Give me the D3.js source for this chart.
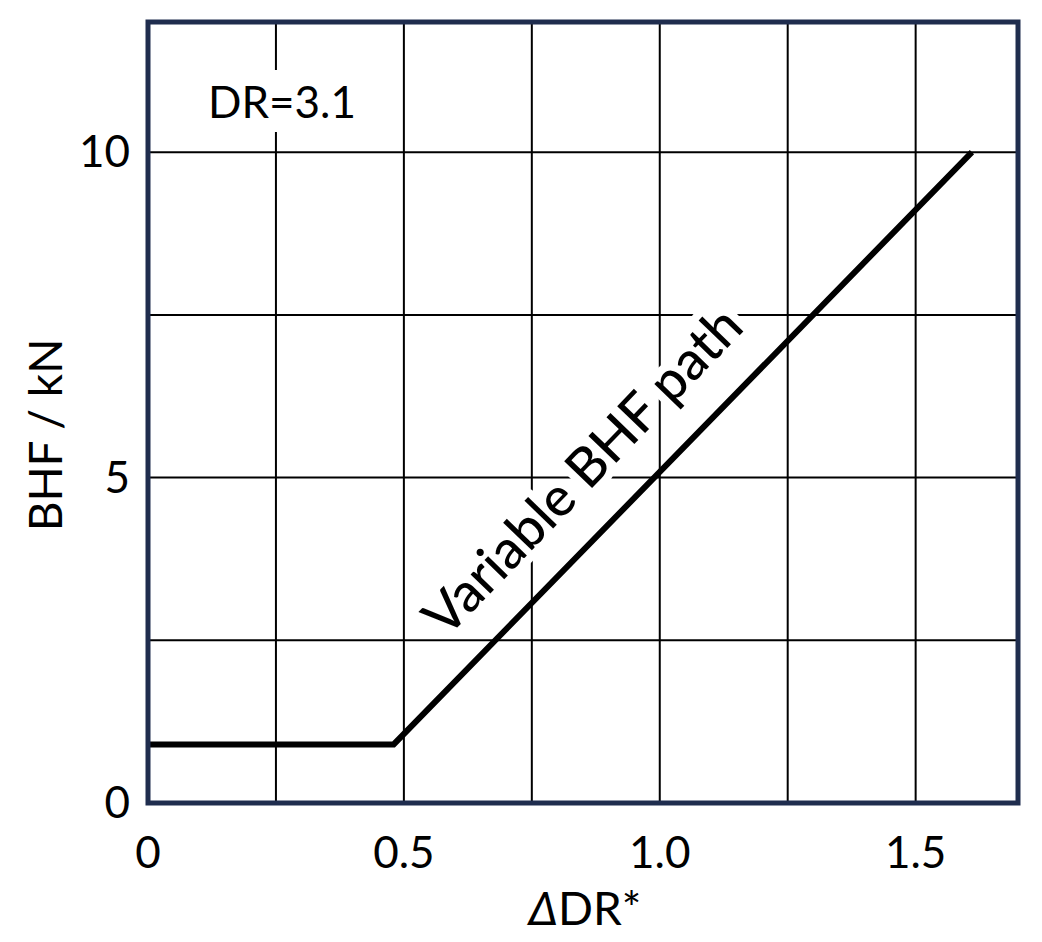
<!DOCTYPE html>
<html><head><meta charset="utf-8">
<script src="https://cdn.jsdelivr.net/npm/d3@7"></script>
<style>body{margin:0;background:#fff}text{font-family:Lato,"Open Sans",sans-serif}</style>
</head><body>
<svg id="c" width="1042" height="942"></svg>
<script>
// path of blank holder force vs delta DR
var pathX = [0, 0.48, 1.61];
var pathY = [0.9, 0.9, 10];
var xTicks = [0, 0.5, 1.0, 1.5];
var yTicks = [0, 5, 10];
var xGrid = [0.25, 0.5, 0.75, 1.0, 1.25, 1.5];
var yGrid = [2.5, 5, 7.5, 10];

var svg = d3.select('#c');
var x = d3.scaleLinear().domain([0, 1.7]).range([148, 1018]);
var y = d3.scaleLinear().domain([0, 12]).range([803, 22]);

var g = svg.append('g');
g.selectAll('.vx').data(xGrid).enter().append('line')
  .attr('x1', d => x(d)).attr('x2', d => x(d)).attr('y1', 22).attr('y2', 803)
  .attr('stroke', '#000').attr('stroke-width', 2);
g.selectAll('.hy').data(yGrid).enter().append('line')
  .attr('y1', d => y(d)).attr('y2', d => y(d)).attr('x1', 148).attr('x2', 1018)
  .attr('stroke', '#000').attr('stroke-width', 2);

svg.append('rect').attr('x', 195).attr('y', 70).attr('width', 195).attr('height', 62).attr('fill', '#fff');
svg.append('text').attr('x', 208).attr('y', 118).attr('font-size', 44).text('DR=3.1');

svg.append('text').attr('x', 596).attr('y', 484)
  .attr('transform', 'rotate(-46,596,484)')
  .attr('text-anchor', 'middle').attr('font-size', 54).attr('font-weight', 500)
  .style('stroke', '#fff').style('stroke-width', 16).style('paint-order', 'stroke').style('stroke-linejoin', 'round')
  .text('Variable BHF path');

svg.append('path')
  .datum(pathX.map((d, i) => [d, pathY[i]]))
  .attr('d', d3.line().x(d => x(d[0])).y(d => y(d[1])))
  .attr('fill', 'none').attr('stroke', '#000').attr('stroke-width', 6);

svg.append('rect').attr('x', 148).attr('y', 22).attr('width', 870).attr('height', 781)
  .attr('fill', 'none').attr('stroke', '#1f2d4e').attr('stroke-width', 5);

svg.selectAll('.xt').data(xTicks).enter().append('text')
  .attr('x', d => x(d)).attr('y', 868).attr('text-anchor', 'middle')
  .attr('font-size', 44).text(d => d === 0 ? '0' : d.toFixed(1));
svg.selectAll('.yt').data(yTicks).enter().append('text')
  .attr('x', 130).attr('y', d => y(d) + 15).attr('text-anchor', 'end')
  .attr('font-size', 44).text(d => d);

svg.append('text').attr('transform', 'translate(62,435) rotate(-90)')
  .attr('text-anchor', 'middle').attr('font-size', 46).text('BHF / kN');
var xl = svg.append('text').attr('x', 585).attr('y', 925).attr('text-anchor', 'middle').attr('font-size', 46);
xl.append('tspan').attr('font-style', 'italic').text('\u0394');
xl.append('tspan').text('DR*');
</script>
</body></html>
